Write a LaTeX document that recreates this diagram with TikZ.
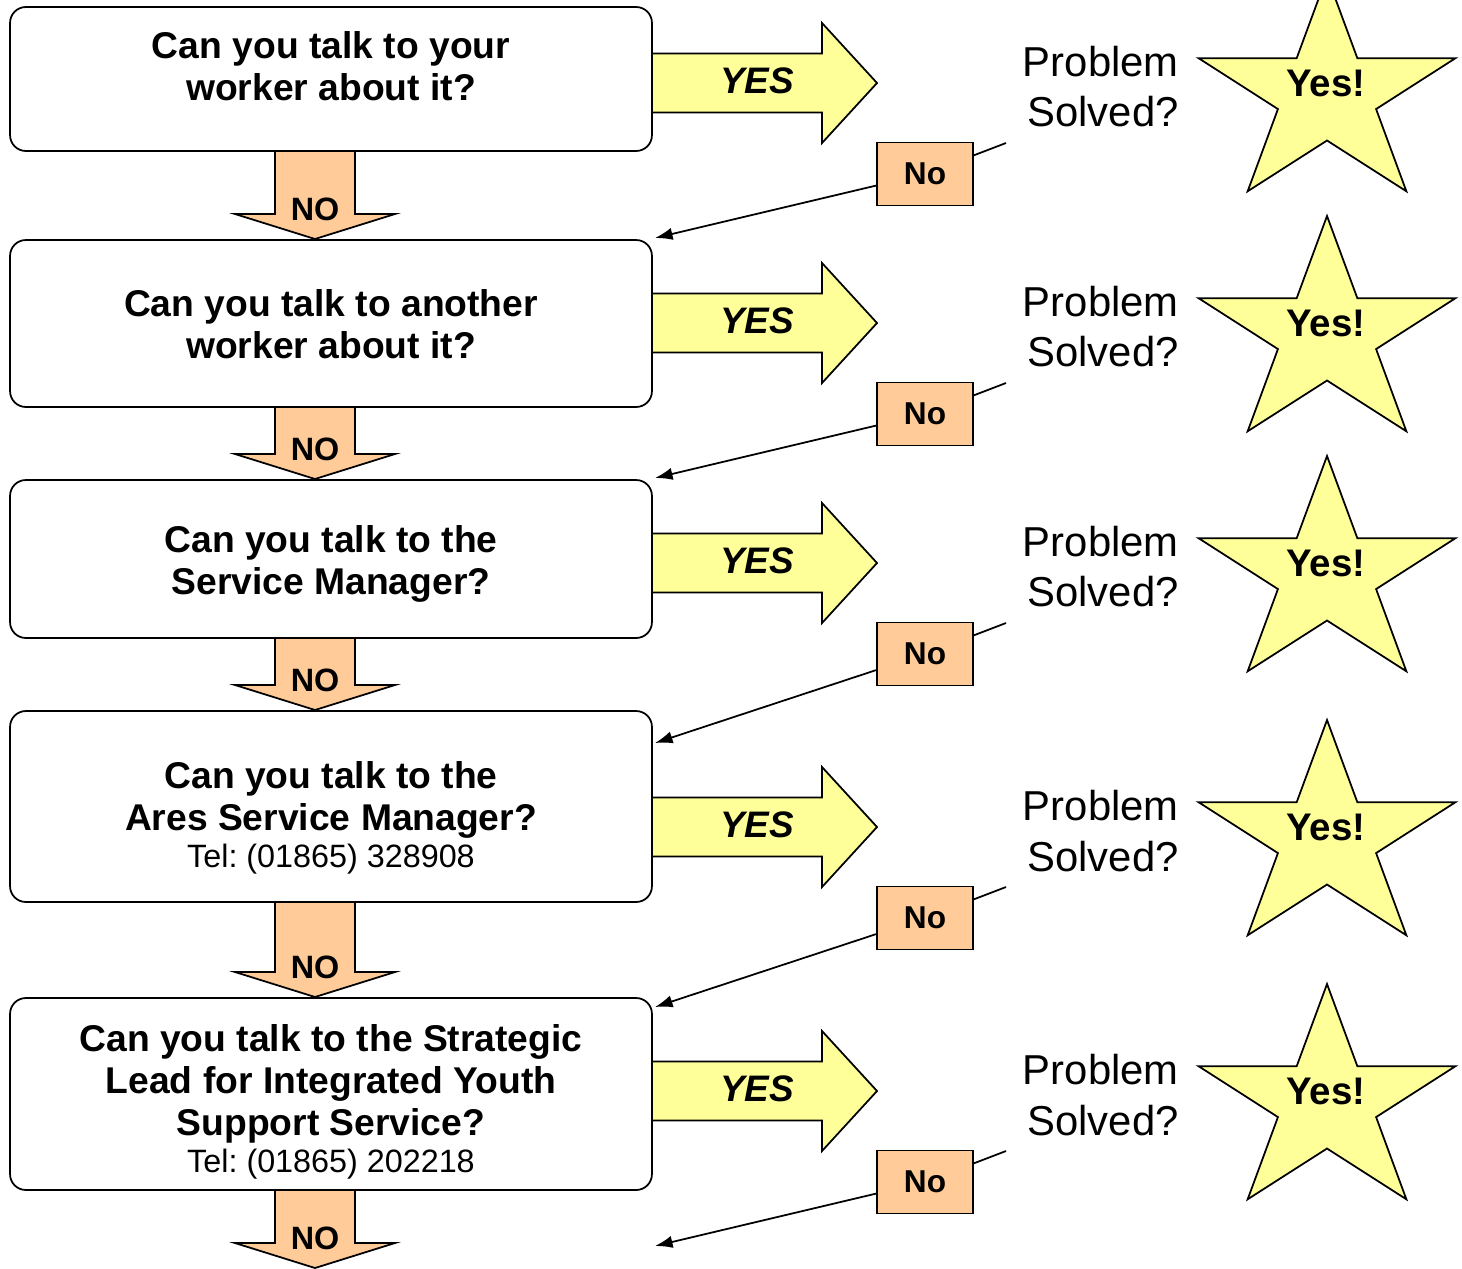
\documentclass[tikz,border=0pt]{standalone}
\usepackage{fontspec}
\setmainfont{Liberation Sans}
\usetikzlibrary{calc,arrows.meta}
\definecolor{paleyellow}{HTML}{FFFF99}
\definecolor{paleorange}{HTML}{FFCC99}
\frenchspacing
\newcommand{\qfont}{\bfseries\fontsize{21.2}{24}\selectfont}
\newcommand{\telfont}{\mdseries\fontsize{18.4}{21}\selectfont}
\tikzset{
  qbox/.style={draw, line width=1pt, rounded corners=9pt, minimum width=12.84cm, inner sep=0pt},
  qtext/.style={align=center, font=\qfont, inner sep=0pt},
  downarrow/.style={draw, fill=paleorange, line width=1pt, line join=miter},
  yesarrow/.style={draw, fill=paleyellow, line width=1pt, line join=miter},
  nobox/.style={draw, fill=paleorange, line width=1pt, minimum width=1.92cm, minimum height=1.26cm, font=\bfseries\fontsize{18}{20}\selectfont},
  starfill/.style={draw, fill=paleyellow, line width=1pt, line join=miter},
  >={Latex[length=10pt,width=7pt]}
}

\begin{document}
\begin{tikzpicture}[x=0.02cm, y=-0.02cm]
  \useasboundingbox (0,0) rectangle (1462,1268);
  \clip (0,0) rectangle (1462,1268);

  % question boxes
  \node[qbox, minimum height=2.88cm] (q1) at (331,79) {};
  \node[qbox, minimum height=3.34cm] (q2) at (331,323.5) {};
  \node[qbox, minimum height=3.16cm] (q3) at (331,559) {};
  \node[qbox, minimum height=3.82cm] (q4) at (331,806.5) {};
  \node[qbox, minimum height=3.84cm] (q5) at (331,1094) {};

  \node[qtext] (t1) at (331,66) {Can you talk to your\\worker about it?};
  \node[qtext] (t2) at (331,324) {Can you talk to another\\worker about it?};
  \node[qtext] (t3) at (331,564) {Can you talk to the\\Service Manager?};
  \node[qtext] (t4) at (331,818) {Can you talk to the\\Ares Service Manager?\\[-3pt]
    \telfont Tel: (01865) 328908};
  \node[qtext] (t5) at (331,1102) {Can you talk to the Strategic\\Lead for Integrated Youth\\Support Service?\\[-3pt]
    \telfont Tel: (01865) 202218};

  % NO arrows going down
  \foreach \top/\tip in {151/239, 407/479, 638/710, 902/997, 1190/1268}{
    \draw[downarrow] (275,\top) -- (275,{\tip-25}) -- (235,{\tip-25}) -- (315,\tip)
      -- (395,{\tip-25}) -- (355,{\tip-25}) -- (355,\top) -- cycle;
    \node[font=\bfseries\fontsize{18.4}{20}\selectfont, anchor=base] at (315,{\tip-19}) {NO};
  }

  % YES arrows, stars and the way back
  \foreach \i/\c/\t in {1/83/238, 2/323/478, 3/563/743, 4/827/1007, 5/1091/1246}{
    \draw[yesarrow] (652,{\c-29.5}) -- (822,{\c-29.5}) -- (822,{\c-60}) -- (877,\c)
      -- (822,{\c+60}) -- (822,{\c+29.5}) -- (652,{\c+29.5}) -- cycle;
    \node[font=\bfseries\itshape\fontsize{21}{24}\selectfont] (yes\i) at (757,{\c-2}) {YES};
    \node[align=right, anchor=east, inner sep=0pt, font=\fontsize{23.8}{28.5}\selectfont] (ps\i) at (1179,{\c+4}) {Problem\\Solved?};
    \coordinate (st\i) at (1327,{\c+12});
    \draw[starfill] (st\i) +(-90:135 and 119) -- +(-54:51.6 and 45.5) -- +(-18:135 and 119)
      -- +(18:51.6 and 45.5) -- +(54:135 and 119) -- +(90:51.6 and 45.5)
      -- +(126:135 and 119) -- +(162:51.6 and 45.5) -- +(198:135 and 119)
      -- +(234:51.6 and 45.5) -- cycle;
    \node[font=\bfseries\fontsize{21.9}{24}\selectfont] (star\i) at (1326,\c) {Yes!};
    \coordinate (from\i) at (1006,{\c+60});
    \coordinate (to\i) at (655,\t);
    \node[nobox] (no\i) at (925,{\c+91}) {No};
    \draw[->, line width=1pt] (from\i) -- (no\i) -- (to\i);
  }
\end{tikzpicture}
\end{document}
